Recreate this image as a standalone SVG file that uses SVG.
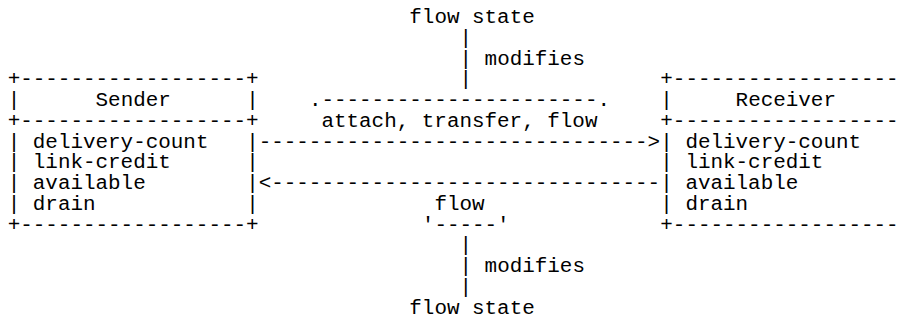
<svg xmlns="http://www.w3.org/2000/svg" width="904" height="320" viewBox="0 0 904 320">
<style>
text { font-family: "Liberation Mono", "DejaVu Sans Mono", monospace; font-size: 20.92px; fill: #000; }
</style>
<rect width="904" height="320" fill="#fff"/>
<g id="flow-state-top">
<text x="409.3" y="23">flow state</text>
</g>
<g id="sender">
<text x="7.7" y="85.25">+------------------+</text>
<text x="7.7" y="106">|</text><text x="95.55" y="106">Sender</text><text x="246.15" y="106">|</text>
<text x="7.7" y="126.75">+------------------+</text>
<text x="7.7" y="147.5">|</text><text x="32.8" y="147.5">delivery-count</text><text x="246.15" y="147.5">|</text>
<text x="7.7" y="168.25">|</text><text x="32.8" y="168.25">link-credit</text><text x="246.15" y="168.25">|</text>
<text x="7.7" y="189">|</text><text x="32.8" y="189">available</text><text x="246.15" y="189">|</text>
<text x="7.7" y="209.75">|</text><text x="32.8" y="209.75">drain</text><text x="246.15" y="209.75">|</text>
<text x="7.7" y="230.5">+------------------+</text>
</g>
<g id="receiver">
<text x="660.3" y="85.25">+------------------</text>
<text x="660.3" y="106">|</text><text x="735.6" y="106">Receiver</text>
<text x="660.3" y="126.75">+------------------</text>
<text x="660.3" y="147.5">|</text><text x="685.4" y="147.5">delivery-count</text>
<text x="660.3" y="168.25">|</text><text x="685.4" y="168.25">link-credit</text>
<text x="660.3" y="189">|</text><text x="685.4" y="189">available</text>
<text x="660.3" y="209.75">|</text><text x="685.4" y="209.75">drain</text>
<text x="660.3" y="230.5">+------------------</text>
</g>
<g id="connectors">
<text x="459.5" y="43.75">|</text>
<text x="459.5" y="64.5">|</text><text x="484.6" y="64.5">modifies</text>
<text x="459.5" y="85.25">|</text>
<text x="308.9" y="106">.----------------------.</text>
<text x="321.45" y="126.75">attach, transfer, flow</text>
<text x="258.7" y="147.5">-------------------------------&gt;</text>
<text x="258.7" y="189">&lt;-------------------------------</text>
<text x="434.4" y="209.75">flow</text>
<text x="421.85" y="230.5">'-----'</text>
<text x="459.5" y="251.25">|</text>
<text x="459.5" y="272">|</text><text x="484.6" y="272">modifies</text>
<text x="459.5" y="292.75">|</text>
</g>
<g id="flow-state-bottom">
<text x="409.3" y="313.5">flow state</text>
</g>
</svg>
